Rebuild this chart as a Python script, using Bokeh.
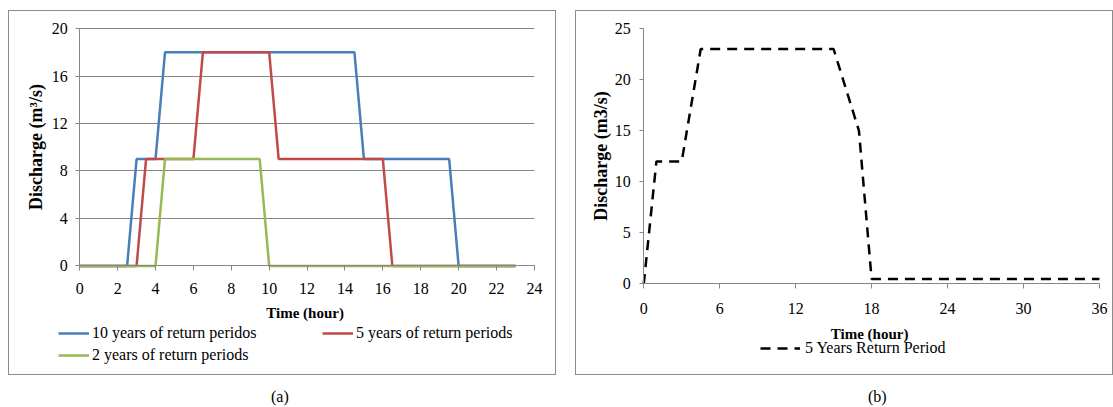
from bokeh.plotting import figure
from bokeh.models import Range1d, FixedTicker, Legend, LegendItem, Div
from bokeh.layouts import row, column
from bokeh.embed import file_html
from bokeh.resources import INLINE

FONT = "Liberation Serif"
GRAY = "#868686"

# ---------------- Panel (a) data ----------------
time_10yr = [0, 2.5, 3, 4, 4.5, 14.5, 15, 19.5, 20, 23]
flow_10yr = [0, 0, 9, 9, 18, 18, 9, 9, 0, 0]
time_5yr = [0, 3, 3.5, 6, 6.5, 10, 10.5, 16, 16.5, 23]
flow_5yr = [0, 0, 9, 9, 18, 18, 9, 9, 0, 0]
time_2yr = [0, 4, 4.5, 9.5, 10, 23]
flow_2yr = [0, 0, 9, 9, 0, 0]
labels_a = ["10 years of return peridos", "5 years of return periods", "2 years of return periods"]
colors_a = ["#4a7ebb", "#be4b48", "#98b954"]
xticks_a = [0, 2, 4, 6, 8, 10, 12, 14, 16, 18, 20, 22, 24]
yticks_a = [0, 4, 8, 12, 16, 20]

# ---------------- Panel (b) data ----------------
time_b = [0, 1, 3, 4.5, 15, 17, 18, 36]
flow_b = [0, 12, 12, 23, 23, 15, 0.5, 0.5]
label_b = "5 Years Return Period"
xticks_b = [0, 6, 12, 18, 24, 30, 36]
yticks_b = [0, 5, 10, 15, 20, 25]


def span(lo_edge_px, zero_px, max_px, vmax, hi_edge_px):
    """Range covering the whole canvas so the axis (0..vmax) sits at given pixels."""
    scale = abs(max_px - zero_px) / vmax
    start = -abs(zero_px - lo_edge_px) / scale
    end = vmax + abs(hi_edge_px - max_px) / scale
    return Range1d(start, end)


def style_axes(p, xmax, ymax, xstand, xlab_stand, ystand, ylab_stand):
    for ax in (p.xaxis[0], p.yaxis[0]):
        ax.fixed_location = 0
        ax.axis_line_color = GRAY
        ax.major_tick_line_color = GRAY
        ax.major_tick_in = 0
        ax.minor_tick_line_color = None
        ax.major_label_text_font = FONT
        ax.major_label_text_font_size = "16px"
        ax.major_label_text_color = "black"
        ax.axis_label_text_font = FONT
        ax.axis_label_text_font_style = "bold"
        ax.axis_label_text_color = "black"
    p.xaxis[0].axis_label_text_font_size = "15px"
    p.yaxis[0].axis_label_text_font_size = "18px"
    p.xaxis[0].bounds = (0, xmax)
    p.yaxis[0].bounds = (0, ymax)
    p.xaxis[0].major_tick_out = 5
    p.yaxis[0].major_tick_out = 4
    p.xaxis[0].major_label_standoff = xstand
    p.xaxis[0].axis_label_standoff = xlab_stand
    p.yaxis[0].major_label_standoff = ystand
    p.yaxis[0].axis_label_standoff = ylab_stand


def make_legend(renderer, label, loc, glyph_width, standoff):
    return Legend(
        items=[LegendItem(label=label, renderers=[renderer])],
        location=loc,
        label_text_font=FONT,
        label_text_font_size="16px",
        label_text_color="black",
        glyph_width=glyph_width,
        glyph_height=20,
        label_height=20,
        label_standoff=standoff,
        padding=0,
        margin=0,
        spacing=0,
        border_line_color=None,
        background_fill_alpha=0,
    )


# ---------------- Figure (a) ----------------
# canvas (inside 1px border): x 9..555, y 11..374 ; axis origin at (79, 264)
pa = figure(
    width=548, height=365,
    x_range=span(9, 79, 532, 24, 555), y_range=span(374, 264, 28, 20, 11),
    output_backend="svg", toolbar_location=None,
    min_border_left=0, min_border_right=0, min_border_top=0, min_border_bottom=0,
    x_axis_label="Time  (hour)", y_axis_label="Discharge (m³/s)",
)
pa.outline_line_color = None
pa.xgrid.visible = False
pa.xaxis.ticker = FixedTicker(ticks=xticks_a)
pa.yaxis.ticker = FixedTicker(ticks=yticks_a)
style_axes(pa, 24, 20, 12, 8, 8, 3)

grid = pa.ygrid[0]
grid.ticker = FixedTicker(ticks=yticks_a)
if "cross_bounds" in grid.properties():
    grid.grid_line_color = GRAY
    grid.cross_bounds = (0, 24)
else:
    grid.visible = False
    pa.segment(x0=[0] * len(yticks_a), x1=[xticks_a[-1]] * len(yticks_a),
               y0=yticks_a, y1=yticks_a, line_color=GRAY, line_width=1)

ra1 = pa.line(time_10yr, flow_10yr, line_color=colors_a[0], line_width=2.5)
ra2 = pa.line(time_5yr, flow_5yr, line_color=colors_a[1], line_width=2.5)
ra3 = pa.line(time_2yr, flow_2yr, line_color=colors_a[2], line_width=2.5)

pa.add_layout(make_legend(ra1, labels_a[0], (49, 33), 31, 3), "center")
pa.add_layout(make_legend(ra2, labels_a[1], (313, 33), 31, 3), "center")
pa.add_layout(make_legend(ra3, labels_a[2], (49, 11), 31, 3), "center")
pa.styles = {"border": "1px solid #8c8c8c"}
pa.margin = (10, 0, 0, 8)

# ---------------- Figure (b) ----------------
# canvas (inside 1px border): x 576..1112, y 11..374 ; axis origin at (643, 282)
pb = figure(
    width=538, height=365,
    x_range=span(576, 643, 1097, 36, 1112), y_range=span(374, 282, 28, 25, 11),
    output_backend="svg", toolbar_location=None,
    min_border_left=0, min_border_right=0, min_border_top=0, min_border_bottom=0,
    x_axis_label="Time  (hour)", y_axis_label="Discharge (m3/s)",
)
pb.outline_line_color = None
pb.xgrid.visible = False
pb.ygrid.visible = False
pb.xaxis.ticker = FixedTicker(ticks=xticks_b)
pb.yaxis.ticker = FixedTicker(ticks=yticks_b)
style_axes(pb, 36, 25, 14, 9, 9, 1)

rb = pb.line(time_b, flow_b, line_color="black", line_width=2.5, line_dash="10 7")
pb.add_layout(make_legend(rb, label_b, (184, 18), 40, 5), "center")
pb.styles = {"border": "1px solid #8c8c8c"}
pb.margin = (10, 0, 0, 19)

# ---------------- captions ----------------
cap_style = {"font-family": FONT, "font-size": "16px", "color": "black"}
da = Div(text="(a)", width=30, height=20, styles=cap_style, margin=(11, 0, 0, 271))
db = Div(text="(b)", width=30, height=20, styles=cap_style, margin=(11, 0, 0, 567))

root = column(row(pa, pb), row(da, db))

open("out.html", "w").write(file_html(root, INLINE))
